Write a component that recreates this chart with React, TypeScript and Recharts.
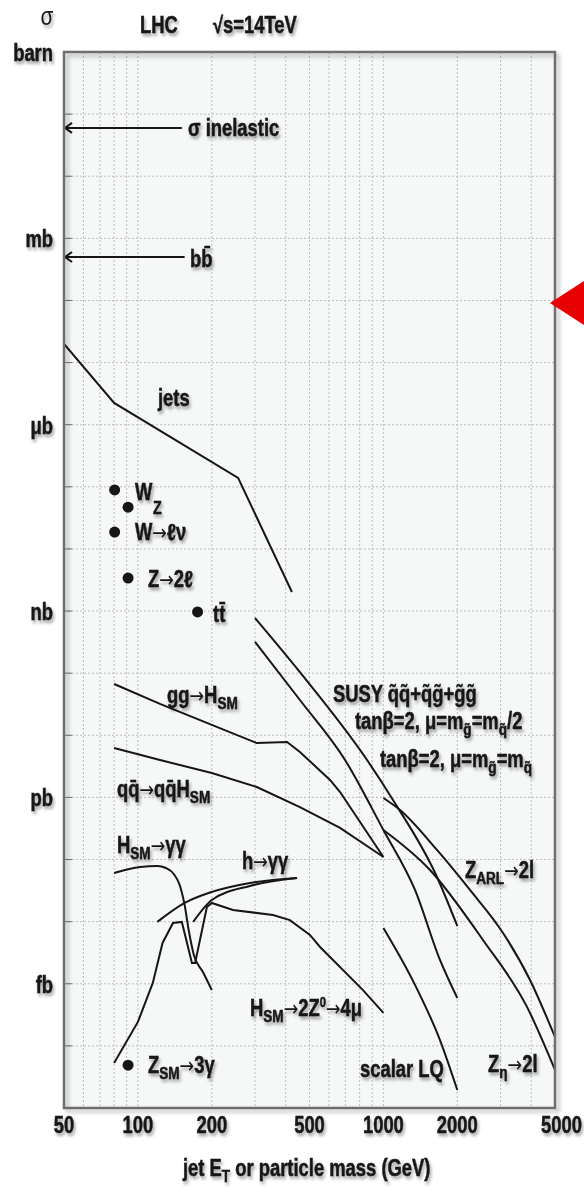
import React from 'react';
import { ComposedChart, Line, Scatter, XAxis, YAxis, CartesianGrid } from 'recharts';

const W = 584;
const H = 1188;
const PLOT = { left: 64, top: 52, right: 555, bottom: 1108 };
const FONT = "'Liberation Sans', Arial, sans-serif";
const SX = 0.8; // the reference uses a condensed bold face
const INK = '#161616';

// axes (x in GeV, y in pb)
const xTicks = [50, 60, 70, 80, 90, 100, 200, 300, 400, 500, 600, 700, 800, 900, 1000, 2000, 3000, 4000, 5000];
const xLabels = [50, 100, 200, 500, 1000, 2000, 5000];
const yDecades = [1e-5, 1e-4, 1e-3, 1e-2, 1e-1, 1, 1e1, 1e2, 1e3, 1e4, 1e5, 1e6, 1e7, 1e8, 1e9, 1e10, 1e11, 1e12];
const unitValues = [1e12, 1e9, 1e6, 1e3, 1, 1e-3];
const unitNames = ['barn', 'mb', 'μb', 'nb', 'pb', 'fb'];
const yMinor = yDecades.slice(0, -1).flatMap(d => [2, 3, 4, 5, 6, 7, 8, 9].map(k => d * k));

// series
const inelastic = [{ x: 50, y: 6e10 }, { x: 151, y: 6e10 }];
const bbbar = [{ x: 50, y: 5e8 }, { x: 155, y: 5e8 }];
const jets = [{ x: 50, y: 2.0e7 }, { x: 80, y: 2.24e6 }, { x: 256, y: 1.39e5 }, { x: 424, y: 2.03e3 }];
const points = [
  { x: 80.4, y: 8.9e4 },   // W
  { x: 91.2, y: 4.7e4 },   // Z
  { x: 80.4, y: 1.87e4 },  // W -> l nu
  { x: 91.2, y: 3.4e3 },   // Z -> 2l
  { x: 175, y: 970 },      // ttbar
  { x: 91.2, y: 4.9e-5 },  // Z -> 3 gamma
];
const ggH = [
  { x: 80, y: 67 }, { x: 123, y: 32 }, { x: 200, y: 14.7 }, { x: 305, y: 7.5 }, { x: 405, y: 7.8 },
  { x: 457, y: 5.4 }, { x: 606, y: 1.91 }, { x: 666, y: 1.22 }, { x: 1000, y: 0.11 },
];
const qqH = [
  { x: 80, y: 6.25 }, { x: 123, y: 4.0 }, { x: 200, y: 2.47 }, { x: 305, y: 1.47 }, { x: 457, y: 0.7 },
  { x: 666, y: 0.322 }, { x: 1000, y: 0.11 },
];
const hsmGG = [
  { x: 80, y: 0.0608 }, { x: 102, y: 0.0759 }, { x: 120, y: 0.0787 }, { x: 130, y: 0.0731 }, { x: 140, y: 0.0585 },
  { x: 148, y: 0.0389 }, { x: 155, y: 0.0185 }, { x: 161, y: 0.00734 }, { x: 169, y: 0.00291 }, { x: 184, y: 0.00155 },
  { x: 200, y: 0.000794 },
];
const hsm4mu = [
  { x: 80, y: 5.3e-5 }, { x: 100, y: 2.43e-4 }, { x: 115, y: 1.03e-3 }, { x: 126, y: 4.54e-3 }, { x: 139, y: 9.5e-3 },
  { x: 151, y: 9.9e-3 }, { x: 166, y: 2.16e-3 }, { x: 171, y: 2.16e-3 }, { x: 191, y: 0.0172 }, { x: 200, y: 0.02 },
  { x: 244, y: 0.0154 }, { x: 355, y: 0.0128 }, { x: 416, y: 0.0106 }, { x: 502, y: 0.00611 }, { x: 552, y: 0.00391 },
  { x: 826, y: 7.9e-4 }, { x: 1000, y: 3.39e-4 },
];
const hGG1 = [{ x: 120, y: 9.9e-3 }, { x: 155, y: 0.02 }, { x: 200, y: 0.0301 }, { x: 286, y: 0.042 }, { x: 445, y: 0.0505 }];
const hGG2 = [{ x: 168, y: 9.9e-3 }, { x: 200, y: 0.0223 }, { x: 286, y: 0.0376 }, { x: 445, y: 0.0505 }];
const susyHalf = [
  { x: 300, y: 773 }, { x: 457, y: 104 }, { x: 858, y: 4.0 }, { x: 1094, y: 0.91 }, { x: 1653, y: 0.0524 }, { x: 2000, y: 0.0085 },
];
const susyEq = [
  { x: 300, y: 318 }, { x: 457, y: 37 }, { x: 698, y: 4.0 }, { x: 1000, y: 0.299 }, { x: 1345, y: 0.0324 },
  { x: 1700, y: 2.42e-3 }, { x: 2000, y: 5.9e-4 },
];
const zARL = [
  { x: 1000, y: 0.98 }, { x: 1169, y: 0.628 }, { x: 1653, y: 0.1426 }, { x: 2252, y: 0.0324 }, { x: 3071, y: 6.58e-3 },
  { x: 3955, y: 1.15e-3 }, { x: 5000, y: 1.39e-4 },
];
const zEta = [{ x: 1000, y: 0.299 }, { x: 1548, y: 0.0679 }, { x: 2544, y: 5.07e-3 }, { x: 3845, y: 4.24e-4 }, { x: 5000, y: 4.1e-5 }];
const scalarLQ = [{ x: 1000, y: 7.9e-3 }, { x: 1345, y: 9.6e-4 }, { x: 1700, y: 1.24e-4 }, { x: 2000, y: 1.95e-5 }];

const curves: { key: string; data: { x: number; y: number }[]; smooth: boolean }[] = [
  { key: 'jets', data: jets, smooth: false },
  { key: 'ggH', data: ggH, smooth: false },
  { key: 'qqH', data: qqH, smooth: false },
  { key: 'hsmGG', data: hsmGG, smooth: true },
  { key: 'hsm4mu', data: hsm4mu, smooth: false },
  { key: 'hGG1', data: hGG1, smooth: true },
  { key: 'hGG2', data: hGG2, smooth: true },
  { key: 'susyHalf', data: susyHalf, smooth: true },
  { key: 'susyEq', data: susyEq, smooth: true },
  { key: 'zARL', data: zARL, smooth: true },
  { key: 'zEta', data: zEta, smooth: true },
  { key: 'scalarLQ', data: scalarLQ, smooth: true },
];

type Part = string | [string, 'sub' | 'sup', number?];

// condensed bold label; parts may be sub/superscripts, arrows use a thin symbol face
const Label = ({ x, y, parts, anchor = 'start', size = 23, weight = 'bold' }: {
  x: number; y: number; parts: Part[]; anchor?: 'start' | 'middle' | 'end'; size?: number; weight?: string;
}) => {
  let cur = 0;
  const spans: React.ReactNode[] = [];
  parts.forEach((p, i) => {
    const txt = typeof p === 'string' ? p : p[0];
    const target = typeof p === 'string' ? 0 : p[1] === 'sub' ? 6 : -9;
    const fs = typeof p === 'string' ? undefined : p[2] ?? 17;
    let dy = target - cur;
    cur = target;
    txt.split(/(→)/).filter(s => s.length > 0).forEach((s, j) => {
      const arrow = s === '→';
      spans.push(
        <tspan
          key={`${i}-${j}`}
          dy={dy || undefined}
          fontSize={arrow ? size * 0.95 : fs}
          fontFamily={arrow ? "'DejaVu Sans', sans-serif" : undefined}
          fontWeight={arrow ? 'normal' : undefined}
          strokeWidth={arrow ? 0 : undefined}
        >
          {s}
        </tspan>,
      );
      dy = 0;
    });
  });
  return (
    <text
      transform={`translate(${x},${y}) scale(${SX},1)`}
      textAnchor={anchor}
      fontFamily={FONT}
      fontWeight={weight}
      fontSize={size}
      fill={INK}
      stroke={weight === 'bold' ? INK : 'none'}
      strokeWidth={0.5}
      filter="url(#tshadow)"
    >
      {spans}
    </text>
  );
};

const arrowDot = (p: any) =>
  p.index === 0 ? (
    <path key={`a${p.cy}`} d={`M${p.cx + 8},${p.cy - 5}L${p.cx + 1},${p.cy}L${p.cx + 8},${p.cy + 5}`} stroke={INK} strokeWidth={2} fill="none" />
  ) : (
    <g key={`n${p.cy}`} />
  );

const XTick = (p: any) => {
  const v = p.payload.value;
  if (!xLabels.includes(v)) return <g />;
  const last = v === 5000;
  return <Label x={last ? 582 : p.x} y={PLOT.bottom + 25} anchor={last ? 'end' : 'middle'} parts={[String(v)]} />;
};

const YMainTick = (p: any) => {
  const v = p.payload.value;
  const i = unitValues.findIndex(u => Math.abs(Math.log10(u) - Math.log10(v)) < 1e-6);
  return (
    <g>
      <line x1={PLOT.left} x2={PLOT.left + 8} y1={p.y} y2={p.y} stroke="#777" strokeWidth={1} />
      {i >= 0 && <Label x={53} y={p.y + 9} anchor="end" parts={[unitNames[i]]} />}
    </g>
  );
};

const YMinorTick = (p: any) => <line x1={PLOT.left} x2={PLOT.left + 5} y1={p.y} y2={p.y} stroke="#888" strokeWidth={1} />;

const YRightTick = (p: any) => {
  const major = yDecades.some(d => Math.abs(Math.log10(d) - Math.log10(p.payload.value)) < 1e-6);
  return <line x1={PLOT.right} x2={PLOT.right - (major ? 8 : 5)} y1={p.y} y2={p.y} stroke="#888" strokeWidth={1} />;
};

export default function App() {
  const yProps = {
    type: 'number' as const,
    scale: 'log' as const,
    domain: [1e-5, 1e12],
    allowDataOverflow: true,
    interval: 0 as const,
    axisLine: false,
    tickLine: false,
  };
  return (
    <div style={{ position: 'absolute', left: 0, top: 0, width: W, height: H, background: '#fff' }}>
      <ComposedChart width={W} height={H} margin={{ top: 52, right: 29, bottom: 50, left: 4 }}>
        <CartesianGrid yAxisId="main" fill="#f6f7f7" stroke="#bdbdbd" strokeDasharray="2 2" strokeWidth={1} />
        <XAxis
          dataKey="x"
          type="number"
          scale="log"
          domain={[50, 5000]}
          allowDataOverflow
          ticks={xTicks}
          interval={0}
          height={30}
          axisLine={false}
          tickLine={false}
          tick={XTick}
        />
        <YAxis yAxisId="main" dataKey="y" width={60} ticks={yDecades} tick={YMainTick} {...yProps} />
        <YAxis yAxisId="minL" width={0} ticks={yMinor} tick={YMinorTick} {...yProps} />
        <YAxis yAxisId="R" orientation="right" width={0} ticks={[...yDecades, ...yMinor]} tick={YRightTick} {...yProps} />

        <Line yAxisId="main" data={inelastic} dataKey="y" stroke={INK} strokeWidth={2} dot={arrowDot} isAnimationActive={false} />
        <Line yAxisId="main" data={bbbar} dataKey="y" stroke={INK} strokeWidth={2} dot={arrowDot} isAnimationActive={false} />
        {curves.map(c => (
          <Line
            key={c.key}
            yAxisId="main"
            data={c.data}
            dataKey="y"
            type={c.smooth ? 'monotone' : 'linear'}
            stroke={INK}
            strokeWidth={2}
            dot={false}
            isAnimationActive={false}
          />
        ))}
        <Scatter
          yAxisId="main"
          data={points}
          dataKey="y"
          isAnimationActive={false}
          shape={(p: any) => <circle cx={p.cx} cy={p.cy} r={5.5} fill={INK} />}
        />
      </ComposedChart>

      <svg width={W} height={H} style={{ position: 'absolute', left: 0, top: 0, pointerEvents: 'none' }}>
        <defs>
          <filter id="tshadow" x="-10%" y="-30%" width="130%" height="180%">
            <feDropShadow dx="2" dy="3" stdDeviation="1.8" floodColor="#000" floodOpacity="0.35" />
          </filter>
          <filter id="fshadow" x="-5%" y="-5%" width="115%" height="115%">
            <feDropShadow dx="3" dy="3" stdDeviation="2" floodColor="#000" floodOpacity="0.3" />
          </filter>
        </defs>
        <rect
          x={PLOT.left}
          y={PLOT.top}
          width={PLOT.right - PLOT.left}
          height={PLOT.bottom - PLOT.top}
          fill="none"
          stroke="#6e6e6e"
          strokeWidth={2.5}
          filter="url(#fshadow)"
        />
        <polygon points="550,303 584,281 584,325" fill="#e60000" />

        <Label x={47} y={25} anchor="middle" size={26} weight="normal" parts={['σ']} />
        <Label x={140} y={33} parts={['LHC']} />
        <Label x={213} y={33} parts={['√s=14TeV']} />

        <Label x={188} y={136} parts={['σ inelastic']} />
        <Label x={190} y={267} parts={['b', 'b\u0304']} />
        <Label x={158} y={406} parts={['jets']} />
        <Label x={135} y={500} parts={['W']} />
        <Label x={153} y={514} size={18} parts={['Z']} />
        <Label x={135} y={540} parts={['W→ℓν']} />
        <Label x={148} y={587} parts={['Z→2ℓ']} />
        <Label x={213} y={622} parts={['t', 't\u0304']} />

        <Label x={167} y={703} parts={['gg→H', ['SM', 'sub']]} />
        <Label x={117} y={797} parts={['q', 'q\u0304', '→q', 'q\u0304', 'H', ['SM', 'sub']]} />
        <Label x={117} y={853} parts={['H', ['SM', 'sub'], '→γγ']} />
        <Label x={242} y={869} parts={['h→γγ']} />
        <Label x={250} y={1016} parts={['H', ['SM', 'sub'], '→2Z', ['0', 'sup', 14], '→4μ']} />
        <Label x={148} y={1073} parts={['Z', ['SM', 'sub'], '→3γ']} />

        <Label x={333} y={702} parts={['SUSY q\u0303q\u0303+q\u0303g\u0303+g\u0303g\u0303']} />
        <Label x={355} y={729} parts={['tanβ=2, μ=m', ['g\u0303', 'sub'], '=m', ['q\u0303', 'sub'], '/2']} />
        <Label x={380} y={767} parts={['tanβ=2, μ=m', ['g\u0303', 'sub'], '=m', ['q\u0303', 'sub']]} />
        <Label x={465} y={878} parts={['Z', ['ARL', 'sub'], '→2l']} />
        <Label x={360} y={1077} parts={['scalar LQ']} />
        <Label x={488} y={1072} parts={['Z', ['η', 'sub'], '→2l']} />

        <Label x={183} y={1176} parts={['jet E', ['T', 'sub'], ' or particle mass (GeV)']} />
      </svg>
    </div>
  );
}
